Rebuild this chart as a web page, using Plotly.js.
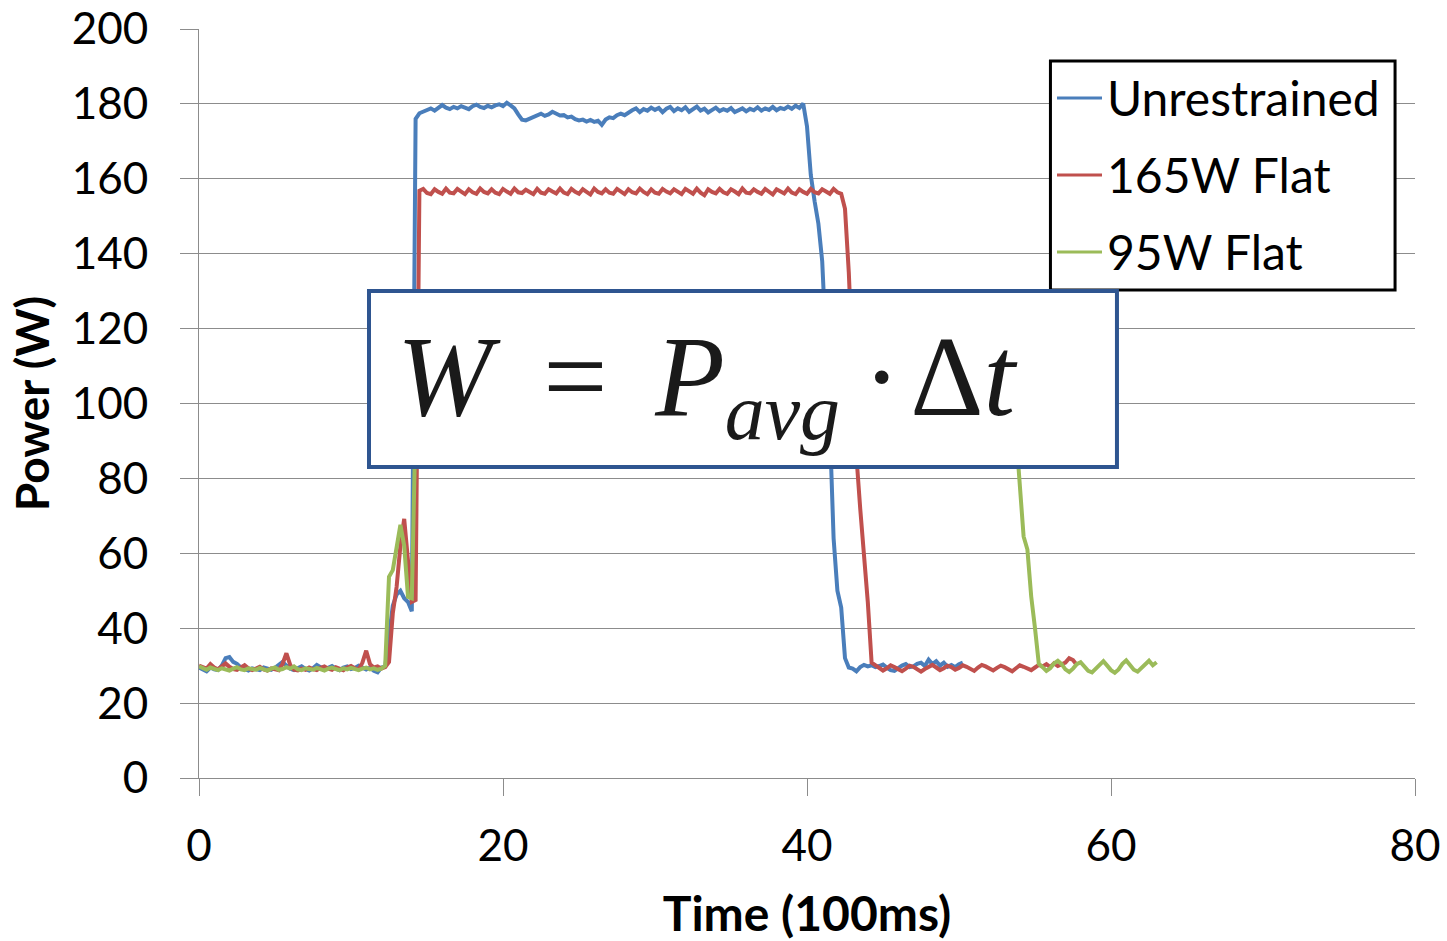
<!DOCTYPE html>
<html><head><meta charset="utf-8">
<script src="https://cdn.plot.ly/plotly-3.0.1.min.js"></script>
<style>html,body{margin:0;padding:0;background:#fff;}#chart{width:1447px;height:941px;}</style>
</head><body><div id="chart"></div>
<script>
// sample spacing (in units of 100 ms)
const DT = 0.25;
const seriesNames = ['Unrestrained', '165W Flat', '95W Flat'];
const seriesColors = ['#4A7EBB', '#C0504D', '#9BBB59'];

const unrestrained = [
29.5,29.0,28.5,29.5, 29.0,28.8,30.0,32.0, 32.3,31.0,30.5,29.5, 29.0,28.7,29.3,29.0,
28.8,29.5,29.2,28.9, 29.4,30.2,31.0,30.0, 29.2,28.8,29.4,29.8, 29.1,28.7,29.3,30.2,
29.6,29.0,29.4,29.9, 29.2,28.8,29.5,29.8, 29.1,29.4,30.0,29.6, 29.0,29.5,28.6,28.2,
29.5,29.8,38.0,46.0, 49.0,50.0,48.0,47.0, 44.5,176.0,177.5,178.0,
178.4,178.8,178.2,179.0, 179.7,179.0,178.6,179.2, 178.8,179.4,179.1,178.6, 179.4,179.8,179.2,178.9,
179.5,179.1,179.6,179.9, 179.4,180.3,179.6,178.8, 177.2,175.8,175.6,176.1, 176.4,176.9,177.4,176.8,
177.2,177.9,177.3,176.9, 177.0,176.4,176.6,175.9, 175.6,175.8,175.3,175.7, 175.2,175.5,174.4,175.8,
176.4,176.2,177.0,177.4, 177.0,177.8,178.3,178.8, 177.8,178.6,178.2,179.0, 178.4,178.9,177.8,178.7,
179.2,178.1,178.8,178.3, 179.1,177.9,178.6,179.3, 178.2,178.7,177.7,178.5, 179.0,178.1,178.6,178.2,
178.9,177.8,178.4,178.8, 178.0,178.7,178.3,179.1, 178.2,178.8,178.4,179.2, 178.3,178.9,178.6,179.3,
178.7,179.5,178.9,180.1, 174.0,161.0,154.0,148.0, 138.0,116.0,94.0,64.0, 50.0,45.5,32.0,29.5,
29.2,28.5,29.6,30.2, 29.8,30.1,29.6,29.9, 30.3,29.5,28.8,28.6, 29.4,30.0,30.4,29.6,
29.8,30.5,30.8,29.9, 31.6,30.4,31.2,30.0, 30.8,29.7,30.2,29.6, 30.4,30.8
];

const flat165 = [
30.0,29.6,29.2,30.4, 29.5,29.0,29.8,30.6, 29.7,29.1,28.9,29.4, 30.1,29.3,28.8,29.2,
29.7,29.0,28.7,29.3, 29.1,28.8,30.5,33.3, 30.2,28.9,28.7,29.2, 28.9,29.5,29.1,28.8,
29.4,29.8,29.2,28.9, 29.6,29.1,28.8,29.5, 29.9,29.3,29.0,30.8, 34.0,30.4,29.5,29.8,
29.2,29.6,31.0,44.0, 51.0,62.0,69.2,58.0, 47.0,47.5,156.8,157.3,
156.2,155.9,157.2,156.5, 156.0,157.4,156.3,156.1, 157.3,156.6,155.9,157.2, 156.4,156.0,157.4,156.5,
156.1,157.2,156.3,155.9, 157.3,156.6,156.0,157.4, 156.4,156.2,157.1,156.5, 155.9,157.3,156.3,156.0,
157.2,156.6,156.1,157.4, 156.3,155.9,157.3,156.5, 156.0,157.2,156.4,155.8, 157.4,156.5,156.1,157.2,
156.3,156.0,157.3,156.6, 155.9,157.2,156.4,156.1, 157.4,156.5,155.9,157.2, 156.3,156.0,157.3,156.6,
156.1,157.2,156.4,155.9, 157.3,156.5,156.0,157.4, 156.3,155.6,157.2,156.5, 156.1,157.3,156.4,156.0,
157.2,156.6,155.9,157.4, 156.3,156.1,157.2,156.5, 156.0,157.3,156.4,155.8, 157.2,156.6,156.1,157.4,
156.3,155.9,157.2,156.5, 156.0,157.3,156.4,156.1, 157.2,156.6,156.0,157.3, 156.4,156.0,152.0,135.0,
110.0,86.0,72.0,60.0, 47.0,30.8,30.2,29.4, 28.7,29.3,30.1,29.6, 28.9,28.5,29.2,30.0,
29.7,29.0,28.4,29.1, 29.8,30.2,29.5,28.8, 29.3,30.0,29.6,28.9, 29.4,30.1,29.7,29.0,
28.6,29.5,30.2,29.8, 29.1,28.7,29.4,30.0, 29.6,29.0,28.5,29.3, 30.1,29.7,29.2,28.8,
29.5,30.2,29.8,30.4, 29.6,30.6,29.9,30.3, 30.8,32.0,31.5,30.2
];

const flat95 = [
29.8,29.2,28.9,29.5, 29.1,28.8,29.3,29.0, 28.7,29.2,29.6,29.0, 28.8,29.3,29.1,28.9,
29.4,29.0,28.7,29.2, 29.5,28.9,29.1,29.6, 29.2,29.8,29.0,28.8, 29.3,29.1,28.9,29.4,
29.0,28.7,29.2,29.5, 29.1,28.8,29.3,29.0, 29.4,29.1,28.8,29.2, 29.5,29.0,29.3,28.9,
29.2,30.0,53.7,55.5, 61.4,67.6,62.0,48.4, 48.0,95.0,95.3,94.8,
95.1,95.5,94.9,95.2, 94.7,95.3,95.0,94.8, 95.4,95.1,94.9,95.2, 94.8,95.3,95.0,95.4,
94.9,95.1,94.7,95.3, 95.2,94.9,95.4,95.0, 94.8,95.2,95.1,94.7, 95.3,95.0,94.9,95.4,
95.1,94.8,95.2,95.0, 94.9,95.3,94.8,95.1, 95.4,95.0,94.7,95.2, 95.1,94.9,95.3,95.0,
94.8,95.2,95.4,94.9, 95.0,95.3,94.8,95.1, 95.2,94.9,95.0,95.4, 94.7,95.1,95.3,94.9,
95.2,95.0,94.8,95.3, 95.1,94.9,95.4,95.0, 94.8,95.2,95.1,94.7, 95.3,95.0,94.9,95.2,
95.1,94.8,95.3,95.0, 94.9,95.4,95.0,94.8, 95.2,95.1,94.7,95.3, 95.0,94.9,95.2,95.4,
94.8,95.1,95.0,94.9, 95.3,95.2,94.8,95.0, 95.4,94.9,95.1,95.2, 94.7,95.0,95.3,94.9,
95.1,95.2,94.8,95.4, 95.0,94.9,95.2,95.1, 94.8,95.3,95.0,94.7, 95.2,95.1,94.9,95.3,
95.0,94.8,95.4,95.1, 94.9,95.2,95.0,94.8, 95.3,95.1,94.9,95.2, 95.0,94.7,95.3,95.1,
94.9,95.2,95.0,95.4, 94.8,95.1,95.3,94.9, 95.2,95.0,95.1,92.0,
77.0,64.5,61.0,48.5, 40.0,30.5,29.6,28.6, 29.3,30.6,31.3,30.4, 29.0,28.3,29.2,30.4,
30.9,29.8,28.6,28.2, 29.1,30.3,31.2,30.0, 28.8,28.1,29.0,30.5, 31.4,30.2,28.9,28.4,
29.4,30.6,31.3,30.1, 30.9
];

const seriesValues = [unrestrained, flat165, flat95];
const xTickVals = [0, 20, 40, 60, 80];
const yTickVals = [0, 20, 40, 60, 80, 100, 120, 140, 160, 180, 200];
const xTitle = 'Time (100ms)';
const yTitle = 'Power (W)';
const formulaText = '<i>W</i>\u2005\u2009=\u2004\u200A<i>P</i><sub><i>avg</i></sub>\u2009·\u200AΔ<i>t</i>';

const GRID = '#8c8c8c';
const FONT = 'Lato, "Open Sans", sans-serif';

const traces = seriesValues.map((vals, k) => ({
  type: 'scatter', mode: 'lines', name: seriesNames[k],
  x: vals.map((_, i) => i * DT), y: vals,
  line: {color: seriesColors[k], width: 4}
}));

const shapes = [];
const annotations = [];

// legend panel
shapes.push({type:'rect', xref:'paper', yref:'paper', x0:0.7002, x1:0.9836, y0:0.6515, y1:0.9573,
  line:{color:'#000', width:3}, fillcolor:'#fff', layer:'above'});
const legendRowsY = [0.9079, 0.8051, 0.7023];
seriesNames.forEach((nm, k) => {
  shapes.push({type:'line', xref:'paper', yref:'paper', x0:0.7056, x1:0.7426,
    y0:legendRowsY[k], y1:legendRowsY[k], line:{color:seriesColors[k], width:3}, layer:'above'});
  annotations.push({xref:'paper', yref:'paper', x:0.7450, y:legendRowsY[k], xanchor:'left', yanchor:'middle',
    text:nm, showarrow:false, font:{family:FONT, size:48, color:'#000'}});
});

// formula box
shapes.push({type:'rect', xref:'paper', yref:'paper', x0:0.1398, x1:0.7549, y0:0.4152, y1:0.6502,
  line:{color:'#2E5590', width:4}, fillcolor:'#fff', layer:'above'});
annotations.push({xref:'paper', yref:'paper', x:0.1612, y:0.5247, xanchor:'left', yanchor:'middle',
  text:formulaText, showarrow:false, font:{family:'"Liberation Serif", "DejaVu Serif", serif', size:114, color:'#1a1a1a'}});

const layout = {
  width:1447, height:941,
  margin:{l:199, r:32, t:29, b:163, pad:0},
  paper_bgcolor:'#fff', plot_bgcolor:'#fff',
  showlegend:false,
  font:{family:FONT, color:'#000'},
  xaxis:{range:[0,80], autorange:false, tickvals:xTickVals, showgrid:false, zeroline:false,
    showline:true, linecolor:GRID, linewidth:1, ticks:'outside', ticklen:17, tickcolor:GRID, tickwidth:1,
    tickfont:{family:FONT, size:44, color:'#000'}, ticklabelstandoff:12, automargin:false,
    title:{text:xTitle, font:{family:FONT, size:48, weight:'bold', color:'#000'}, standoff:28}},
  yaxis:{range:[0,200], autorange:false, tickvals:yTickVals, showgrid:true, gridcolor:GRID, gridwidth:1, zeroline:false,
    showline:true, linecolor:GRID, linewidth:1, ticks:'outside', ticklen:18, tickcolor:GRID, tickwidth:1,
    tickfont:{family:FONT, size:44, color:'#000'}, ticklabelstandoff:23, automargin:false,
    title:{text:yTitle, font:{family:FONT, size:46, weight:'bold', color:'#000'}, standoff:7}},
  shapes: shapes,
  annotations: annotations
};

Plotly.newPlot('chart', traces, layout, {displayModeBar:false, staticPlot:true});
</script>
</body></html>
